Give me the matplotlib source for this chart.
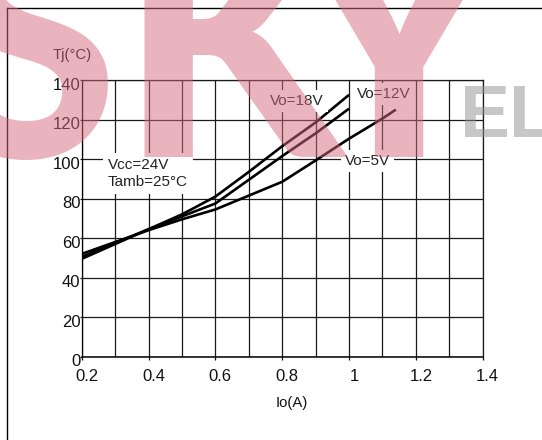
import matplotlib
matplotlib.use("Agg")
import matplotlib.pyplot as plt
import matplotlib.transforms as mtransforms
from matplotlib.lines import Line2D
import numpy as np

# Io (A) readings for the two steeper curves
io_a = [0.2, 0.3, 0.4, 0.5, 0.6, 0.7, 0.8, 0.9, 1.0]
tj_18v = [49.5, 57.0, 64.5, 72.0, 81.0, 93.5, 106.5, 118.5, 132.5]
tj_12v = [50.5, 57.5, 64.5, 71.0, 77.5, 89.5, 101.5, 113.0, 125.5]
# the flatter curve runs a bit further
io_b = [0.2, 0.3, 0.4, 0.5, 0.6, 0.7, 0.8, 0.9, 1.0, 1.1, 1.14]
tj_5v = [52.0, 58.0, 64.0, 69.5, 74.5, 81.5, 88.5, 99.3, 110.3, 120.5, 125.0]

x_ticks = [0.2, 0.4, 0.6, 0.8, 1.0, 1.2, 1.4]
x_tick_labels = ["0.2", "0.4", "0.6", "0.8", "1", "1.2", "1.4"]
y_ticks = [0, 20, 40, 60, 80, 100, 120, 140]

plt.rcParams['font.family'] = ['Liberation Sans', 'DejaVu Sans']

W, H, DPI = 542, 440, 100


def watermark(fig):
    pink = dict(fontsize=232, fontweight=900, family='Lato', color='#d76b81',
                alpha=0.5, va='baseline', zorder=10)
    base = 1 - 157 / H
    fig.text(118 / W, base, "S", ha='right', **pink)
    fig.text(120 / W, base, "K", ha='left', **pink)
    fig.text(398 / W, base, "Y", ha='center', **pink)
    grey = dict(fontsize=54, fontweight='bold', family='Liberation Sans',
                color='#919191', alpha=0.5, va='baseline', ha='left', zorder=10)
    fig.text(460 / W, 1 - 137 / H, "E", **grey)
    fig.text(509 / W, 1 - 137 / H, "L", **grey)


def plot():
    fig = plt.figure(figsize=(W / DPI, H / DPI), dpi=DPI)
    ax = fig.add_axes([81.7 / W, 1 - 356.7 / H, 401 / W, 276.7 / H])

    for io, tj in [(io_a, tj_18v), (io_a, tj_12v), (io_b, tj_5v)]:
        ax.plot(io, tj, color='black', lw=1.9, zorder=3, solid_capstyle='butt')

    ax.set_xlim(0.2, 1.4)
    ax.set_ylim(0, 140)
    ax.set_xticks(x_ticks)
    ax.set_xticklabels(x_tick_labels)
    ax.set_xticks(np.arange(0.3, 1.4, 0.2), minor=True)
    ax.set_yticks(y_ticks)
    ax.grid(which='both', color='#1a1a1a', lw=0.9, zorder=1)
    ax.tick_params(axis='x', which='major', direction='out', length=2.2, width=0.9,
                   labelsize=12, pad=6.5, colors='#111111')
    ax.tick_params(axis='x', which='minor', length=0)
    ax.tick_params(axis='y', direction='out', length=1.6, width=0.9,
                   labelsize=12, pad=-0.8, colors='#111111')
    for s in ax.spines.values():
        s.set_color('#1a1a1a')
        s.set_linewidth(0.9)
    ax.spines['left'].set_color('black')
    ax.spines['bottom'].set_color('black')
    ax.spines['bottom'].set_linewidth(1.1)

    # labels in the source sit a few pixels off their ticks
    dx = mtransforms.ScaledTranslation(5 / DPI, 0, fig.dpi_scale_trans)
    for lab in ax.get_xticklabels():
        lab.set_transform(lab.get_transform() + dx)
    dy = mtransforms.ScaledTranslation(0, -3.5 / DPI, fig.dpi_scale_trans)
    for lab in ax.get_yticklabels():
        lab.set_transform(lab.get_transform() + dy)

    ax.set_xlabel("Io(A)", fontsize=10.7, color='#111111')
    ax.xaxis.set_label_coords(0.5237, -0.142)
    ax.set_ylabel("Tj(°C)", fontsize=10.7, color='#111111', rotation=0,
                  ha='center', va='center')
    ax.yaxis.set_label_coords(-0.024, 1.09)

    box = dict(boxstyle='square,pad=0.25', fc='white', ec='none')
    ax.text(0.844, 129.4, "Vo=18V", fontsize=11, color='#222222',
            ha='center', va='center', bbox=box, zorder=4)
    ax.text(1.105, 132.9, "Vo=12V", fontsize=11, color='#222222',
            ha='center', va='center', bbox=box, zorder=4)
    ax.text(1.055, 99.0, "Vo=5V", fontsize=11, color='#222222',
            ha='center', va='center', bbox=box, zorder=4)
    ax.text(0.279, 92.7, "Vcc=24V\nTamb=25°C", fontsize=11, color='#222222',
            ha='left', va='center', linespacing=1.25,
            bbox=dict(boxstyle='square,pad=0.35', fc='white', ec='none'), zorder=4)

    # page frame
    fig.add_artist(Line2D([7 / W, 7 / W], [0, 1 - 8.3 / H], transform=fig.transFigure,
                          color='black', lw=1.0))
    fig.add_artist(Line2D([7 / W, 1], [1 - 8.3 / H, 1 - 8.3 / H], transform=fig.transFigure,
                          color='black', lw=1.0))

    watermark(fig)

    fig.savefig("out.png", dpi=DPI)


def main():
    plot()


if __name__ == "__main__":
    main()
